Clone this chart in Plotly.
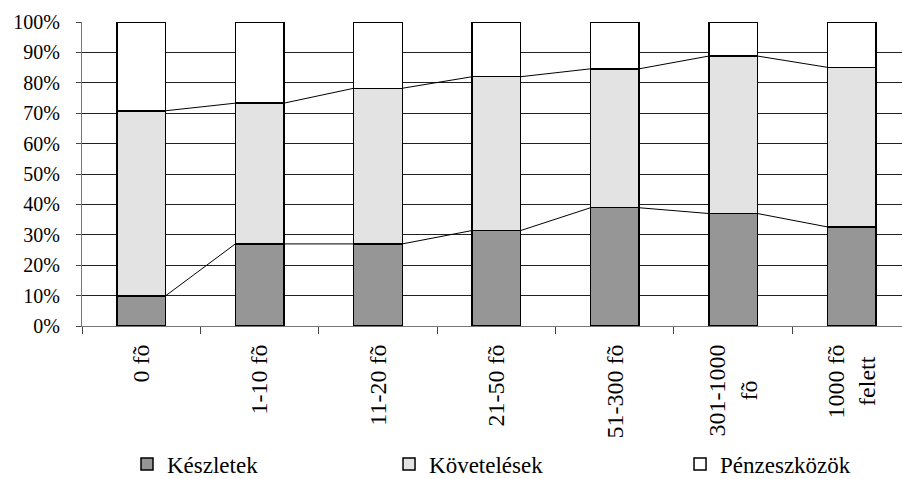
import plotly.graph_objects as go

categories = ["0 fõ", "1-10 fõ", "11-20 fõ", "21-50 fõ", "51-300 fõ", "301-1000<br>fõ", "1000 fõ<br>felett"]
keszletek = [9.9, 27.0, 27.0, 31.4, 38.9, 37.0, 32.6]
kovetelesek = [60.9, 46.3, 51.2, 50.6, 45.7, 51.8, 52.5]
penzeszkozok = [round(100 - a - b, 1) for a, b in zip(keszletek, kovetelesek)]
series_names = ["Készletek", "Követelések", "Pénzeszközök"]
series_colors = ["#969696", "#e3e3e3", "#ffffff"]
y_ticks = list(range(0, 101, 10))
y_ticktext = [f"{v}%" for v in y_ticks]

# second lines of two-line labels are centred (padding with no-break spaces)
NBSP = "\u00a0"
label_pad = {"301-1000<br>fõ": "301-1000<br>fõ" + NBSP * 6,
             "1000 fõ<br>felett": "1000 fõ<br>felett" + NBSP * 2}
x_ticktext = [label_pad.get(c, c) for c in categories]

BAR_W = 0.41
FONT = "serif"

fig = go.Figure()
legend_ids = ["legend", "legend2", "legend3"]
for name, vals, col, lg in zip(series_names, [keszletek, kovetelesek, penzeszkozok], series_colors, legend_ids):
    fig.add_trace(go.Bar(
        x=categories, y=vals, name=name, width=BAR_W,
        marker=dict(color=col, line=dict(color="black", width=1.5)),
        legend=lg,
    ))

# series lines connecting the tops of the stacked segments
n = len(categories)
cum1 = keszletek
cum2 = [a + b for a, b in zip(keszletek, kovetelesek)]
for cum in (cum1, cum2):
    xs, ys = [], []
    for i in range(n - 1):
        xs += [i + BAR_W / 2, i + 1 - BAR_W / 2, None]
        ys += [cum[i], cum[i + 1], None]
    fig.add_trace(go.Scatter(x=xs, y=ys, xaxis="x2", mode="lines",
                             line=dict(color="black", width=1), showlegend=False,
                             hoverinfo="skip"))

xr = [-0.5, 6.426]
leg_common = dict(orientation="h", xref="container", yref="container", y=0.031,
                  xanchor="left", yanchor="middle",
                  font=dict(size=23, family=FONT, color="black"), itemwidth=30)
fig.update_layout(
    width=902, height=479,
    margin=dict(l=82, r=0, t=22, b=153),
    plot_bgcolor="white", paper_bgcolor="white",
    barmode="stack",
    font=dict(family=FONT, color="black", size=20),
    xaxis=dict(type="category", range=xr, tickson="boundaries", ticks="outside",
               tickmode="array", tickvals=categories, ticktext=x_ticktext,
               ticklen=7, tickcolor="#444", showline=True, linecolor="#777",
               linewidth=1, tickangle=-90, tickfont=dict(size=24, family=FONT),
               showgrid=False, ticklabelstandoff=8, automargin=False),
    xaxis2=dict(overlaying="x", range=xr, visible=False, type="linear"),
    yaxis=dict(range=[0, 100], tickmode="array", tickvals=y_ticks, ticktext=y_ticktext,
               ticks="outside", ticklen=5, tickcolor="#444", showline=True,
               linecolor="#777", linewidth=1, showgrid=True, gridcolor="#222",
               gridwidth=1, tickfont=dict(size=20, family=FONT),
               ticklabelstandoff=12, zeroline=False, automargin=False),
    legend=dict(x=0.1408, **leg_common),
    legend2=dict(x=0.4313, **leg_common),
    legend3=dict(x=0.7539, **leg_common),
)

fig.write_html("out.html", config={"displayModeBar": False},
               post_script="document.body.style.margin='0';")
